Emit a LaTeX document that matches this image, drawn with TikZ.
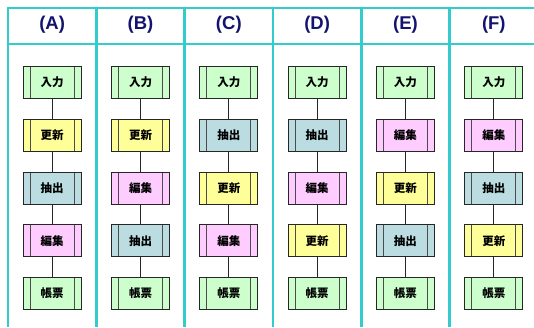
\documentclass[tikz,border=0pt]{standalone}
\usepackage{fontspec}
\newfontfamily\jpfont{Noto Sans CJK JP}
\newfontfamily\headfont{Liberation Sans}
\definecolor{gridcyan}{RGB}{51,204,204}
\definecolor{headnavy}{RGB}{20,20,110}
\definecolor{boxgreen}{RGB}{204,255,204}
\definecolor{boxyellow}{RGB}{255,255,153}
\definecolor{boxblue}{RGB}{187,221,226}
\definecolor{boxpink}{RGB}{255,204,255}
\usetikzlibrary{positioning}

\begin{document}
\begin{tikzpicture}[x=1pt, y=-1pt,
		proc/.style={draw=black!85, line width=1pt, minimum width=58pt, minimum height=32pt,
			inner sep=0pt, outer sep=0pt, font=\jpfont\bfseries\fontsize{11.5}{12}\selectfont,
			path picture={\draw[black!70, line width=0.9pt]
				([xshift=7pt]path picture bounding box.north west) -- ([xshift=7pt]path picture bounding box.south west)
				([xshift=-7pt]path picture bounding box.north east) -- ([xshift=-7pt]path picture bounding box.south east);}},
		nyu/.style={proc, fill=boxgreen},   % Eingabe
		kou/.style={proc, fill=boxyellow},  % Aktualisierung
		chu/.style={proc, fill=boxblue},    % Extraktion
		hen/.style={proc, fill=boxpink},    % Bearbeitung
		cho/.style={proc, fill=boxgreen},   % Bericht
		link/.style={draw=black!85, line width=1.3pt},
		gridline/.style={gridcyan, line width=2.6pt},
		head/.style={font=\headfont\bfseries\fontsize{18.5}{20}\selectfont, text=headnavy}]
	\useasboundingbox (0,0) rectangle (534,327);
	%Raster zeichnen
	\draw[gridline] (6.7,8) -- (534,8);
	\draw[gridline] (8,44) -- (534,44);
	\foreach \i in {0,...,5} \draw[gridline] ({8+88.33*\i},8) -- ({8+88.33*\i},327);
	% Spalten mit Ablauf
	\foreach \c/\i/\sa/\ta/\sb/\tb/\sc/\tc in {
			A/0/kou/更新/chu/抽出/hen/編集,
			B/1/kou/更新/hen/編集/chu/抽出,
			C/2/chu/抽出/kou/更新/hen/編集,
			D/3/chu/抽出/hen/編集/kou/更新,
			E/4/hen/編集/kou/更新/chu/抽出,
			F/5/hen/編集/chu/抽出/kou/更新} {
		\node[head] (h\c) at ({52.17+88.33*\i},25) {(\c)};
		\node[nyu] (\c1) at ({52.17+88.33*\i},82.5) {入力};
		\node[\sa, below=20.75pt of \c1] (\c2) {\ta};
		\node[\sb, below=20.75pt of \c2] (\c3) {\tb};
		\node[\sc, below=20.75pt of \c3] (\c4) {\tc};
		\node[cho, below=20.75pt of \c4] (\c5) {帳票};
		% Verbindungen
		\draw[link] (\c1) -- (\c2);
		\draw[link] (\c2) -- (\c3);
		\draw[link] (\c3) -- (\c4);
		\draw[link] (\c4) -- (\c5);
	}
\end{tikzpicture}
\end{document}
